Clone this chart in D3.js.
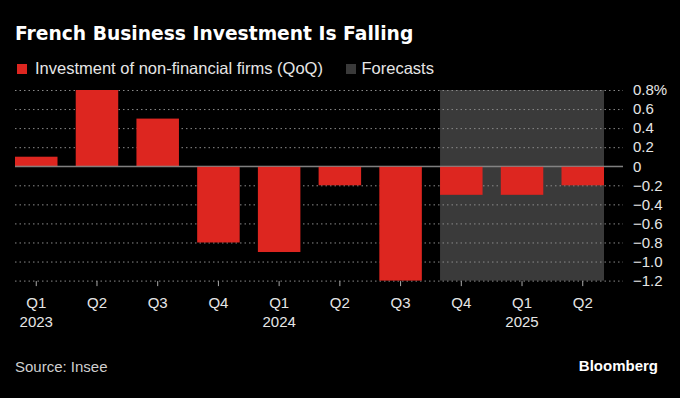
<!DOCTYPE html>
<html lang="en">
<head>
    <meta charset="UTF-8">
    <title>French Business Investment Is Falling</title>
    <script src="https://d3js.org/d3.v7.min.js"></script>
    <style>
        body {
            margin: 0;
            background: #000;
        }
        svg text {
            font-family: "Liberation Sans", Arial, sans-serif;
        }
        .grid line {
            stroke: #8a8a8a;
            stroke-dasharray: 1.5, 3;
        }
        .grid text, .xaxis text {
            fill: #e6e6e6;
            font-size: 15px;
        }
        .xaxis line {
            stroke: #aaa;
        }
    </style>
</head>

<body>
    <div id="chart"></div>

    <script>
        // quarters, years and quarter-on-quarter change (%)
        var quarters = ["Q1", "Q2", "Q3", "Q4", "Q1", "Q2", "Q3", "Q4", "Q1", "Q2"];
        var years = ["2023", "", "", "", "2024", "", "", "", "2025", ""];
        var values = [0.1, 0.8, 0.5, -0.8, -0.9, -0.2, -1.2, -0.3, -0.3, -0.2];
        var isForecast = [false, false, false, false, false, false, false, true, true, true];
        var yTicks = [0.8, 0.6, 0.4, 0.2, 0, -0.2, -0.4, -0.6, -0.8, -1.0, -1.2];

        var width = 680, height = 398;
        var margin = { top: 90, right: 57, bottom: 117.4, left: 15 };
        var red = "#dd2620";

        var data = values.map((v, i) => ({ key: i, quarter: quarters[i], year: years[i], value: v, forecast: isForecast[i] }));

        var svg = d3.select("#chart")
            .append("svg")
            .attr("width", width)
            .attr("height", height)
            .style("background", "#000");

        var x = d3.scaleBand()
            .domain(data.map(d => d.key))
            .range([margin.left, 604])
            .paddingInner(0.3)
            .paddingOuter(0);

        var y = d3.scaleLinear()
            .domain([-1.2, 0.8])
            .range([height - margin.bottom, margin.top]);

        // title
        svg.append("text")
            .attr("x", 15)
            .attr("y", 40)
            .attr("fill", "#fff")
            .style("font-family", "'DejaVu Sans', sans-serif")
            .style("font-size", "18.7px")
            .style("font-weight", "bold")
            .text("French Business Investment Is Falling");

        // legend
        var legend = [
            { label: "Investment of non-financial firms (QoQ)", color: red, x: 17 },
            { label: "Forecasts", color: "#3a3a3a", x: 346 }
        ];
        var lg = svg.selectAll(".legend")
            .data(legend)
            .enter().append("g")
            .attr("class", "legend")
            .attr("transform", d => "translate(" + d.x + ",64)");
        lg.append("rect")
            .attr("width", 10)
            .attr("height", 10)
            .attr("fill", d => d.color);
        lg.append("text")
            .attr("x", (d, i) => i === 0 ? 18 : 15.5)
            .attr("y", 10)
            .attr("fill", "#e6e6e6")
            .style("font-size", "16.5px")
            .text(d => d.label);

        // forecast shading
        var fc = data.filter(d => d.forecast);
        svg.append("rect")
            .attr("x", x(fc[0].key))
            .attr("y", y(0.8))
            .attr("width", x(fc[fc.length - 1].key) + x.bandwidth() - x(fc[0].key))
            .attr("height", y(-1.2) - y(0.8))
            .attr("fill", "#3a3a3a");

        // grid lines + right labels
        var grid = svg.append("g")
            .attr("class", "grid")
            .attr("transform", "translate(" + margin.left + ",0)")
            .call(d3.axisRight(y)
                .tickValues(yTicks)
                .tickSize(608)
                .tickPadding(10)
                .tickFormat(d => d === 0.8 ? "0.8%" : (d === 0 ? "0" : d3.format(".1f")(d))));
        grid.select(".domain").remove();
        grid.selectAll(".tick").filter(d => d === 0).select("line")
            .style("stroke-dasharray", "none")
            .style("stroke", "#888");

        // bars
        svg.selectAll(".bar")
            .data(data)
            .enter().append("rect")
            .attr("class", "bar")
            .attr("x", d => x(d.key))
            .attr("y", d => y(Math.max(0, d.value)))
            .attr("width", x.bandwidth())
            .attr("height", d => Math.abs(y(d.value) - y(0)))
            .attr("fill", red);

        // zero line on top of bars
        svg.append("line")
            .attr("x1", margin.left)
            .attr("x2", margin.left + 608)
            .attr("y1", y(0))
            .attr("y2", y(0))
            .attr("stroke", "#888")
            .attr("stroke-width", 1);

        // x axis
        var xAxis = svg.append("g")
            .attr("class", "xaxis")
            .attr("transform", "translate(0," + (y(-1.2) + 0.5) + ")")
            .call(d3.axisBottom(x)
                .tickSize(5)
                .tickPadding(11)
                .tickFormat(d => quarters[d]));
        xAxis.select(".domain").remove();
        xAxis.selectAll(".tick")
            .append("text")
            .attr("y", 46)
            .attr("fill", "#e6e6e6")
            .style("text-anchor", "middle")
            .text(d => years[d]);

        // footer
        svg.append("text")
            .attr("x", 15)
            .attr("y", 372)
            .attr("fill", "#cfcfcf")
            .style("font-size", "15px")
            .text("Source: Insee");

        svg.append("text")
            .attr("x", 658)
            .attr("y", 371)
            .attr("fill", "#fff")
            .style("font-size", "15px")
            .style("font-weight", "bold")
            .style("text-anchor", "end")
            .text("Bloomberg");
    </script>
</body>
</html>
